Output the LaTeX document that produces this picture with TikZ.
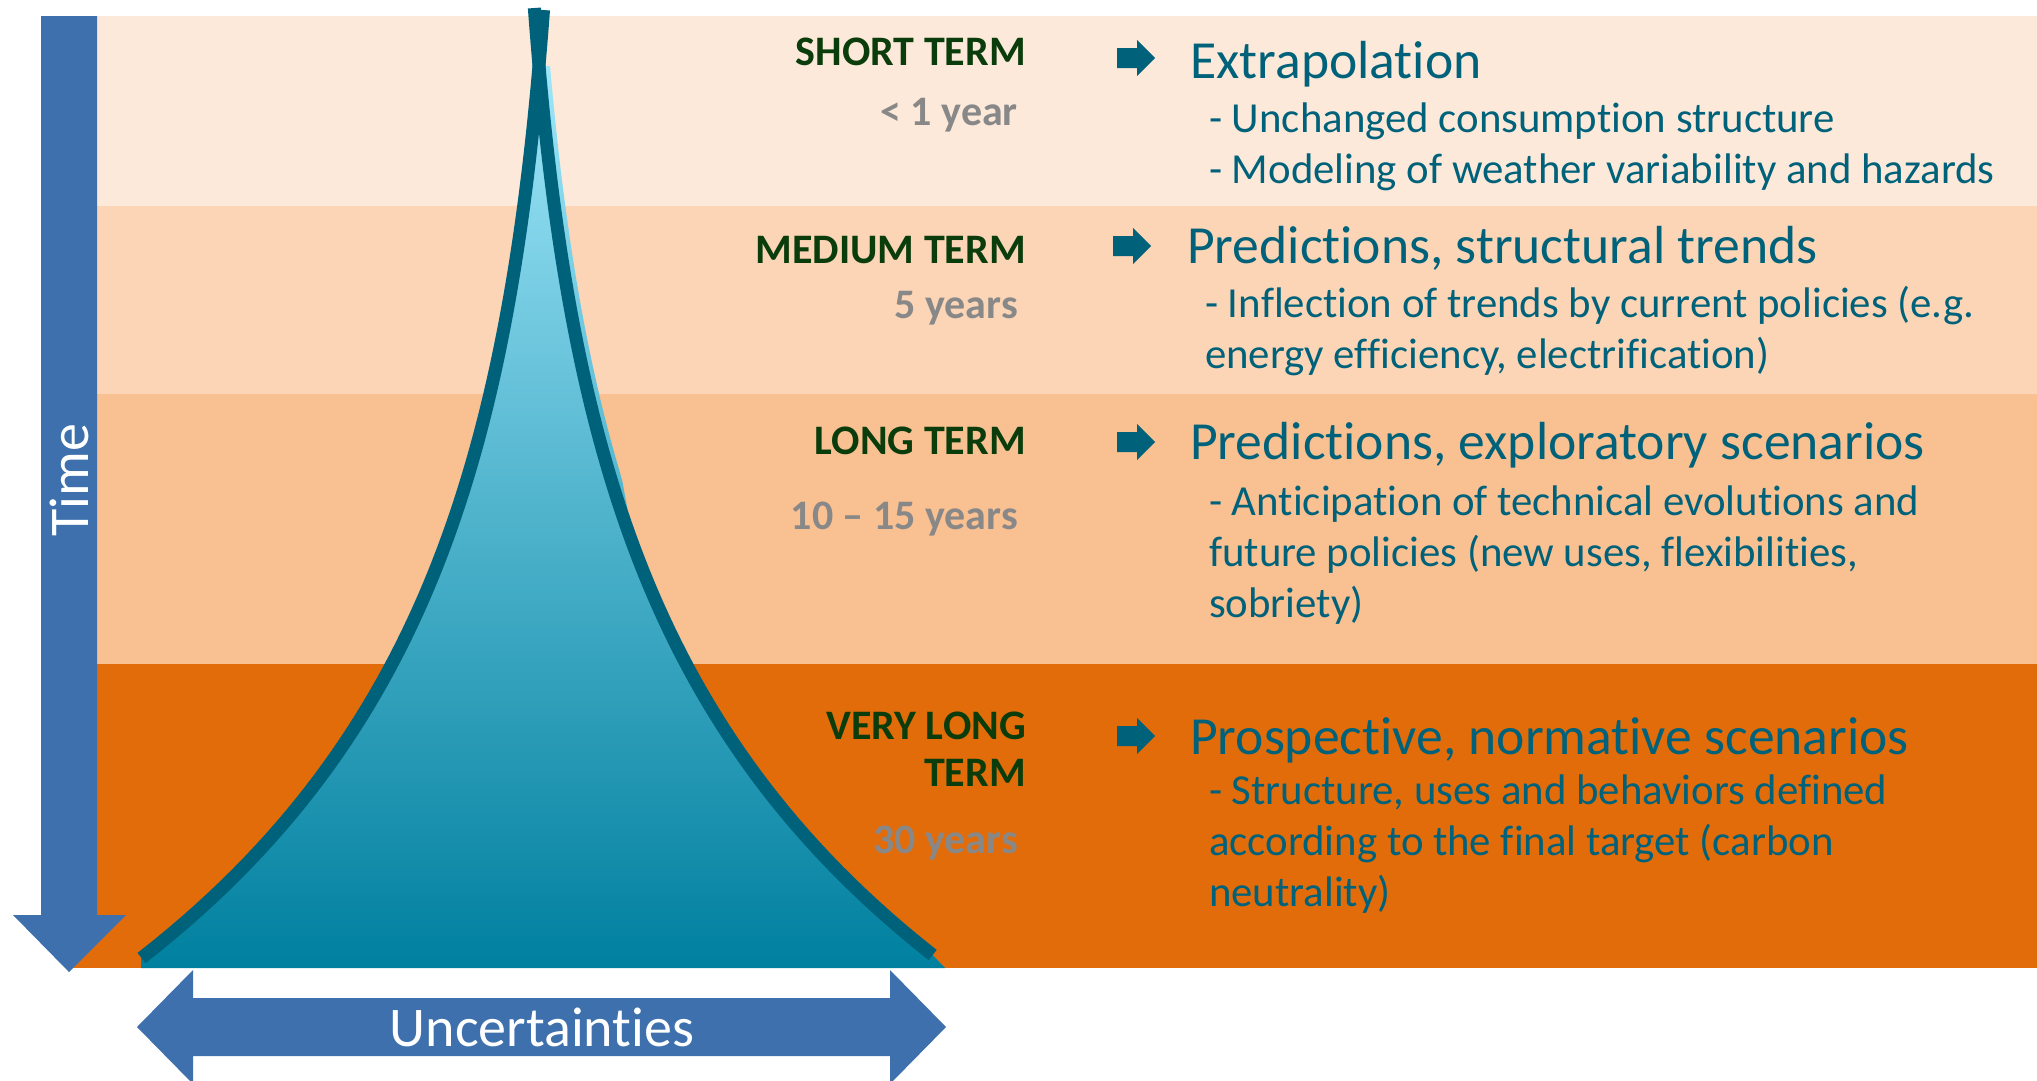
\documentclass[tikz,border=0pt]{standalone}
\usepackage{fontspec}
\setmainfont{Carlito}[Ligatures=CommonOff]
\definecolor{bandA}{HTML}{FCE9DA}
\definecolor{bandB}{HTML}{FBD5B5}
\definecolor{bandC}{HTML}{F9C091}
\definecolor{bandD}{HTML}{E36C0A}
\definecolor{arrowblue}{HTML}{3D70AC}
\definecolor{tealtext}{HTML}{00627A}
\definecolor{termgreen}{HTML}{0B3C0B}
\definecolor{spangray}{HTML}{888888}
\definecolor{spiketop}{HTML}{9EE6F9}
\definecolor{spikebot}{HTML}{00809F}
% spread of the spike at height #1
\tikzset{declare function={spread(\y)=30.2*(exp(0.003*(\y-77))-1);
  sliver(\y)=11*min(1,max(0,(560-\y)/80));}}
\tikzset{
  termlabel/.style={anchor=base east, inner sep=0pt, text=termgreen, font=\fontsize{42}{50}\selectfont\bfseries},
  spanlabel/.style={anchor=base east, inner sep=0pt, text=spangray, font=\fontsize{42}{50}\selectfont\bfseries},
  headline/.style={anchor=base west, inner sep=0pt, text=tealtext, font=\fontsize{53.6}{60}\selectfont},
  subline/.style={anchor=base west, inner sep=0pt, text=tealtext, font=\fontsize{42.8}{50}\selectfont},
  axistext/.style={anchor=base, inner sep=0pt, text=white, font=\fontsize{56}{60}\selectfont},
  spike/.style={draw=tealtext, line width=13pt, line cap=butt},
}
\begin{document}
\begin{tikzpicture}[x=1pt,y=-1pt]
\useasboundingbox (0,0) rectangle (2037,1080);
\clip (0,0) rectangle (2037,1080);
% horizon bands
\fill[bandA] (72,16) rectangle (2037,206);
\fill[bandB] (72,206) rectangle (2037,394);
\fill[bandC] (72,394) rectangle (2037,664);
\fill[bandD] (72,664) rectangle (2037,968);
% time axis
\fill[arrowblue] (41,16) -- (97,16) -- (97,915) -- (126,915) -- (69,972) -- (13,915) -- (41,915) -- cycle;
\node[axistext, rotate=90] (time) at (88,480) {Time};
% uncertainty axis
\fill[arrowblue] (137,1027) -- (193,970) -- (193,998) -- (890,998) -- (890,970) -- (946,1027)
  -- (890,1084) -- (890,1056) -- (193,1056) -- (193,1084) -- cycle;
\node[axistext] (uncert) at (542,1046) {Uncertainties};
% uncertainty spike
\shade[top color=spiketop, bottom color=spikebot] (141,968)
  -- plot[domain=958:66, samples=80] ({538-spread(\x)}, \x)
  -- plot[domain=66:955, samples=80] ({540+spread(\x)+sliver(\x)}, \x)
  -- (945,968) -- cycle;
\draw[spike] plot[domain=958:10, samples=80] ({538-spread(\x)}, \x);
\draw[spike] plot[domain=955:8, samples=80] ({540+spread(\x)}, \x);
% horizon labels
\node[termlabel] (short) at (1026,65) {SHORT TERM};
\node[spanlabel] (shortspan) at (1018,125) {< 1 year};
\node[termlabel] (medium) at (1026,263) {MEDIUM TERM};
\node[spanlabel] (mediumspan) at (1018,318) {5 years};
\node[termlabel] (long) at (1026,454) {LONG TERM};
\node[spanlabel] (longspan) at (1018,529) {10 – 15 years};
\node[termlabel] (verylong) at (1026,739) {VERY LONG};
\node[termlabel] (verylongb) at (1026,786) {TERM};
\node[spanlabel] (verylongspan) at (1018,853) {30 years};
% small arrows
\foreach \x/\y in {1117/58, 1113/246, 1117/442, 1117/736}
\fill[tealtext, shift={(\x,\y)}] (0,-10) -- (20,-10) -- (20,-18) -- (38,0) -- (20,18) -- (20,10) -- (0,10) -- cycle;
% methods
\node[headline] (extra) at (1190,78) {Extrapolation};
\node[headline] (predstruct) at (1187,263) {Predictions, structural trends};
\node[headline] (predexplo) at (1190,459) {Predictions, exploratory scenarios};
\node[headline] (prosp) at (1190,754) {Prospective, normative scenarios};
\foreach \x/\y/\t [count=\i] in {1209/132/{- Unchanged consumption structure},
  1209/183/{- Modeling of weather variability and hazards},
  1205/317/{- Inflection of trends by current policies (e.g.},
  1205/368/{energy efficiency, electrification)},
  1209/515/{- Anticipation of technical evolutions and},
  1209/566/{future policies (new uses, flexibilities,},
  1209/617/{sobriety)},
  1209/804/{- Structure, uses and behaviors defined},
  1209/855/{according to the final target (carbon},
  1209/906/{neutrality)}}
\node[subline] (sub\i) at (\x,\y) {\t};
\end{tikzpicture}
\end{document}
